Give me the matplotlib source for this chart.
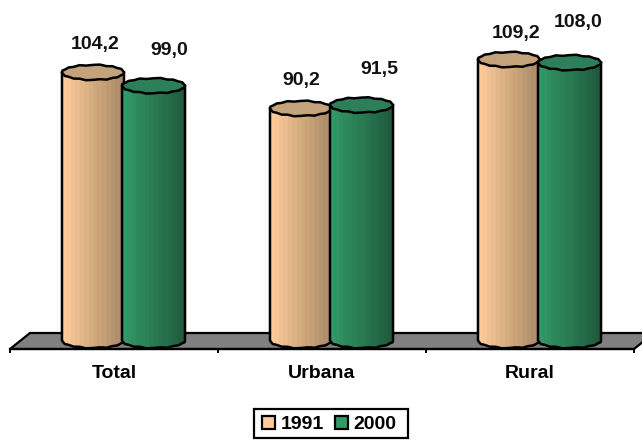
import numpy as np
import matplotlib
matplotlib.use("Agg")
import matplotlib.pyplot as plt
from matplotlib.patches import Patch, Polygon, Rectangle
from matplotlib.colors import LinearSegmentedColormap

categories = ["Total", "Urbana", "Rural"]
years = ["1991", "2000"]
values_1991 = [104.2, 90.2, 109.2]
values_2000 = [99.0, 91.5, 108.0]

plt.rcParams["font.family"] = ["Liberation Sans", "DejaVu Sans"]
W, H = 642, 441
FS = 14
fig = plt.figure(figsize=(W / 100, H / 100), dpi=100, facecolor="white")
# axes box in pixels: x 10..634, y 349..9
ax = fig.add_axes([10 / W, (H - 349) / H, 624 / W, 340 / H])
px_per_unit = 2.573
y0_px = 340.5
ax_ylim = (-(349 - y0_px) / px_per_unit, (y0_px - 9) / px_per_unit)
px_x = 3.0 / 624  # data units per pixel in x
px_y = 1 / px_per_unit

# floor
floor = Polygon([(-0.5, ax_ylim[0]), (2.5, ax_ylim[0]),
                 (2.5 + 20 * px_x, ax_ylim[0] + 16 * px_y),
                 (-0.5 + 20 * px_x, ax_ylim[0] + 16 * px_y)],
                closed=True, facecolor="#808080", edgecolor="black", lw=1.6,
                clip_on=False, zorder=1)
ax.add_patch(floor)

tan = LinearSegmentedColormap.from_list("t", ["#FFCC99", "#A98A68"])
grn = LinearSegmentedColormap.from_list("g", ["#339966", "#1F5C3E"])
styles = [(values_1991, -0.101, 62, tan, "#C4A27C"),
          (values_2000, 0.190, 63, grn, "#2D7F59")]
wob = np.array([1, .93, 1.07, .95, 1.05, .93, 1.07, 1, .93, 1.07, .95, 1.05, .93, 1.07])


def ellipse(cx, cy, rx, ry, a0=0.0, a1=2 * np.pi, n=29):
    t = np.linspace(a0, a1, n)
    w = wob[(np.arange(n)) % len(wob)]
    return cx + rx * np.cos(t) * (1 + (w - 1) * 0.15), cy + ry * np.sin(t) * w


z = 2
for vals, off, wpx, cmap, topc in styles:
    for i, v in enumerate(vals):
        cx = i + off
        rx = wpx / 2 * px_x
        ry = 7.5 * px_y
        bx, by = ellipse(cx, 0, rx, ry, np.pi, 2 * np.pi, 15)
        bx = np.r_[bx, cx + rx, cx - rx]
        by = np.r_[by, v, v]
        body = Polygon(np.c_[bx, by], closed=True, facecolor="none",
                       edgecolor="black", lw=1.8, clip_on=False, zorder=z + 0.2)
        clip = Polygon(np.c_[bx, by], closed=True, transform=ax.transData)
        grad = np.linspace(0, 1, 14)[None, :]
        im = ax.imshow(grad, cmap=cmap, extent=(cx - rx, cx + rx, -ry * 1.2, v),
                       aspect="auto", interpolation="nearest", zorder=z,
                       origin="lower")
        im.set_clip_path(clip)
        ax.add_patch(body)
        tx, ty = ellipse(cx, v, rx, ry)
        ax.add_patch(Polygon(np.c_[tx, ty], closed=True, facecolor=topc,
                             edgecolor="black", lw=1.8, clip_on=False, zorder=z + 0.3))
        z += 1

# value labels: offsets from the top centre of each cylinder, in pixels
offsets = [[(2, 28), (0, 28), (7, 26)], [(16, 35), (18, 36), (9, 40)]]
for s, (vals, off, *_rest) in enumerate(styles):
    for i, v in enumerate(vals):
        dx, dy = offsets[s][i]
        ax.annotate(f"{v:.1f}".replace(".", ","), (i + off, v),
                    xytext=(dx * 0.72, dy * 0.72), textcoords="offset points",
                    ha="center", va="center", fontsize=FS, fontweight="bold",
                    color="#111111", zorder=50, annotation_clip=False)

ax.set_xlim(-0.5, 2.5)
ax.set_ylim(*ax_ylim)
ax.set_facecolor("none")
for s in ("top", "left", "right"):
    ax.spines[s].set_visible(False)
ax.spines["bottom"].set_linewidth(1.6)
ax.set_yticks([])
ax.set_xticks([-0.5, 0.5, 1.5, 2.5])
ax.set_xticklabels([])
ax.tick_params(axis="x", which="major", length=3.2, width=1.4, color="black")
ax.set_xticks([0, 1, 2], minor=True)
ax.set_xticklabels(categories, minor=True, fontsize=FS, fontweight="bold")
ax.tick_params(axis="x", which="minor", length=0, pad=11.5)

# legend frame (x 254..408, y 409..438 px) and frameless legend inside it
fig.add_artist(Rectangle((254 / W, (H - 438) / H), 154 / W, 29 / H,
                         transform=fig.transFigure, facecolor="white",
                         edgecolor="black", lw=1.6))
handles = [Patch(facecolor="#FFCC99", edgecolor="black", lw=1.6, label=years[0]),
           Patch(facecolor="#339966", edgecolor="black", lw=1.6, label=years[1])]
fig.legend(handles=handles, ncol=2, loc="center left",
           bbox_to_anchor=(262 / W, (H - 424.5) / H),
           prop={"weight": "bold", "size": FS}, frameon=False,
           handlelength=0.65, handleheight=0.65, handletextpad=0.3,
           columnspacing=0.6, borderpad=0, borderaxespad=0)

fig.savefig("out.png", dpi=100)
